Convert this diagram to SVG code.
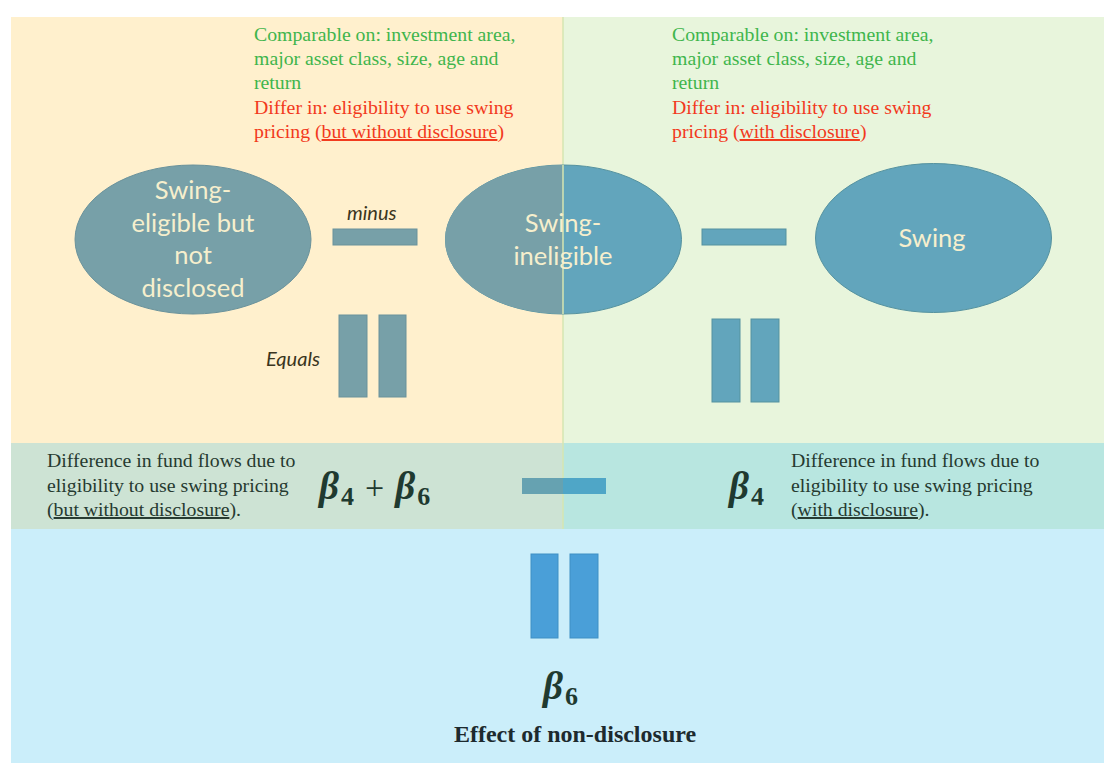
<svg xmlns="http://www.w3.org/2000/svg" width="1104" height="763" viewBox="0 0 1104 763">
<defs>
<style>
.serif{font-family:"Liberation Serif","Times New Roman",serif;font-size:19.8px}
.green{fill:#3fb54c}
.red{fill:#f2391c}
.dark{fill:#263a30}
.ell{font-family:Lato,"Noto Sans",sans-serif;font-size:25.5px;fill:#f6efcd;text-anchor:middle}
.ital{font-family:Lato,"Noto Sans",sans-serif;font-style:italic;font-size:20px;fill:#3a3520}
.beta{font-family:"Liberation Serif","DejaVu Serif",serif;font-weight:bold;font-style:italic;font-size:39px;fill:#1f3a30}
.sub{font-family:"Liberation Serif","DejaVu Serif",serif;font-weight:bold;font-size:26px;fill:#1f3a30}
.plus{font-family:"Liberation Serif","DejaVu Serif",serif;font-size:34px;fill:#1f3a30}
.gray{fill:#77a0a8;stroke:#6a929b;stroke-width:1}
.blue{fill:#62a5bc;stroke:#55929f;stroke-width:1}
.brt{fill:#4a9fd8;stroke:#3f8fc4;stroke-width:1}
</style>
</defs>
<rect width="1104" height="763" fill="#ffffff"/>
<g id="backgrounds">
<rect x="11" y="17" width="552" height="426" fill="#fff0cd"/>
<rect x="563" y="17" width="541" height="426" fill="#e8f5dc"/>
<rect x="11" y="443" width="552" height="86" fill="#cde3d4"/>
<rect x="563" y="443" width="541" height="86" fill="#b8e6e0"/>
<rect x="11" y="529" width="1093" height="234" fill="#cbeefa"/>
<line x1="563" y1="17" x2="563" y2="529" stroke="#d6e6b2" stroke-width="1.5"/>
</g>
<g id="text-left-top" class="serif">
<text x="254" y="41" class="green">Comparable on: investment area,</text>
<text x="254" y="65" class="green">major asset class, size, age and</text>
<text x="254" y="89" class="green">return</text>
<text x="254" y="114" class="red">Differ in: eligibility to use swing</text>
<text x="254" y="138" class="red">pricing (<tspan text-decoration="underline">but without disclosure</tspan>)</text>
</g>
<g id="text-right-top" class="serif">
<text x="672" y="41" class="green">Comparable on: investment area,</text>
<text x="672" y="65" class="green">major asset class, size, age and</text>
<text x="672" y="89" class="green">return</text>
<text x="672" y="114" class="red">Differ in: eligibility to use swing</text>
<text x="672" y="138" class="red">pricing (<tspan text-decoration="underline">with disclosure</tspan>)</text>
</g>
<g id="node-not-disclosed">
<ellipse cx="193" cy="239.5" rx="118" ry="74.5" class="gray"/>
<text class="ell"><tspan x="193" y="199">Swing-</tspan><tspan x="193" y="232">eligible but</tspan><tspan x="193" y="264">not</tspan><tspan x="193" y="297">disclosed</tspan></text>
</g>
<g id="node-ineligible">
<ellipse cx="563.5" cy="239.5" rx="118" ry="74.5" class="blue"/>
<path d="M563,165 A118,74.5 0 0 0 563,314 Z" fill="#77a0a8"/>
<line x1="563" y1="165" x2="563" y2="314" stroke="#d6e6b2" stroke-width="1.5"/>
<text class="ell"><tspan x="563" y="232">Swing-</tspan><tspan x="563" y="265">ineligible</tspan></text>
</g>
<g id="node-swing">
<ellipse cx="933.5" cy="238" rx="118" ry="74.5" class="blue"/>
<text class="ell" x="932" y="247">Swing</text>
</g>
<g id="connectors">
<rect x="333" y="229" width="84" height="16" class="gray"/>
<text class="ital" x="347" y="220">minus</text>
<rect x="702" y="229" width="84" height="16" class="blue"/>
<rect x="339" y="315" width="28" height="82" class="gray"/>
<rect x="379" y="315" width="27" height="82" class="gray"/>
<text class="ital" x="266" y="366">Equals</text>
<rect x="712" y="319" width="28" height="83" class="blue"/>
<rect x="751" y="319" width="28" height="83" class="blue"/>
<rect x="522" y="478" width="41" height="16" fill="#66a2b1"/>
<rect x="563" y="478" width="43" height="16" fill="#4fa6c7"/>
<rect x="531" y="554" width="27" height="84" class="brt"/>
<rect x="570" y="554" width="28" height="84" class="brt"/>
</g>
<g id="text-mid-left" class="serif dark">
<text x="47" y="467">Difference in fund flows due to</text>
<text x="47" y="492">eligibility to use swing pricing</text>
<text x="47" y="516">(<tspan text-decoration="underline">but without disclosure</tspan>).</text>
</g>
<g id="beta46">
<text x="319" y="499"><tspan class="beta">β</tspan><tspan class="sub" dy="6" dx="2">4</tspan><tspan class="plus" dy="-6" dx="11">+</tspan><tspan class="beta" dx="11">β</tspan><tspan class="sub" dy="6" dx="2">6</tspan></text>
</g>
<g id="beta4">
<text x="729" y="499"><tspan class="beta">β</tspan><tspan class="sub" dy="6" dx="2">4</tspan></text>
</g>
<g id="text-mid-right" class="serif dark">
<text x="791" y="467">Difference in fund flows due to</text>
<text x="791" y="492">eligibility to use swing pricing</text>
<text x="791" y="516">(<tspan text-decoration="underline">with disclosure</tspan>).</text>
</g>
<g id="result">
<text x="543" y="699"><tspan class="beta">β</tspan><tspan class="sub" dy="6" dx="2">6</tspan></text>
<text x="575" y="742" text-anchor="middle" font-family="Liberation Serif, Times New Roman, serif" font-weight="bold" font-size="24" fill="#1d2a2e">Effect of non-disclosure</text>
</g>
</svg>
